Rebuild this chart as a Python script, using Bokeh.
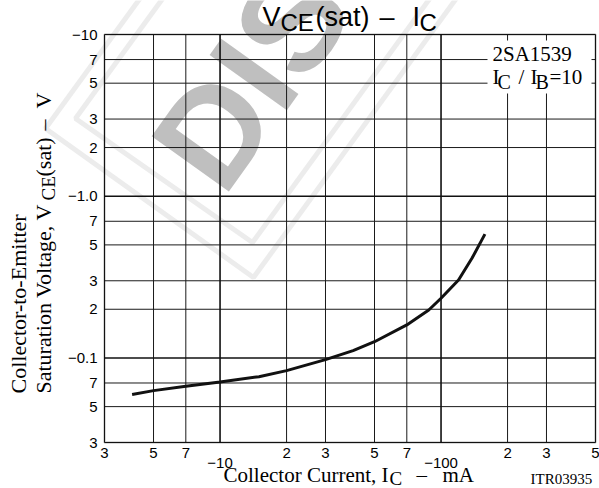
import math
from bokeh.plotting import figure
from bokeh.models import FixedTicker, Label, PolyAnnotation, BoxAnnotation
from bokeh.embed import file_html
from bokeh.resources import INLINE

# ---- data (magnitudes; values are negative in the datasheet) ----
ic_mA = [4, 5, 7, 10, 15, 20, 30, 40, 50, 70, 88, 100, 120, 138, 158]
vce_sat_V = [0.0594, 0.0628, 0.0668, 0.0711, 0.0766, 0.0835, 0.0976, 0.111, 0.126,
             0.160, 0.198, 0.234, 0.303, 0.413, 0.583]

x_ticks = [3, 5, 7, 10, 20, 30, 50, 70, 100, 200, 300, 500]
x_tick_labels = ["3", "5", "7", "−10", "2", "3", "5", "7", "−100", "2", "3", "5"]
x_lowered = [10, 100]          # ticks whose labels sit lower in the original
y_ticks = [10, 7, 5, 3, 2, 1, 0.7, 0.5, 0.3, 0.2, 0.1, 0.07, 0.05, 0.03]
y_tick_labels = ["−10", "7", "5", "3", "2", "−1.0", "7", "5", "3", "2", "−0.1", "7", "5", "3"]
decades_x = [10, 100]
decades_y = [1, 0.1]
X0, X1 = 3, 500
Y0, Y1 = 0.03, 10

W, H = 599, 488
FL, FR, FT, FB = 104, 595, 34, 442   # plot box edges in canvas pixels
SHIFT = 0.33                         # text baseline compensation (em)

# ranges chosen so that the plot box lands at FL..FR / FT..FB on a full-canvas frame
ppd_x = (FR - FL) / math.log10(X1 / X0)
ppd_y = (FB - FT) / math.log10(Y1 / Y0)
x_range = (10 ** (math.log10(X0) - FL / ppd_x), 10 ** (math.log10(X1) + (W - FR) / ppd_x))
y_range = (10 ** (math.log10(Y0) - (H - FB) / ppd_y), 10 ** (math.log10(Y1) + FT / ppd_y))


def sx(x):
    return x


def sy(y):
    return H - y


p = figure(width=W, height=H, x_axis_type="log", y_axis_type="log",
           x_range=x_range, y_range=y_range,
           output_backend="svg", toolbar_location=None,
           min_border_left=0, min_border_right=0, min_border_top=0, min_border_bottom=0)
p.title.visible = False
p.background_fill_color = "white"
p.border_fill_color = "white"
p.outline_line_color = None
p.xgrid.visible = False
p.ygrid.visible = False

# axes pinned to the plot box edges
p.xaxis.fixed_location = Y0
p.yaxis.fixed_location = X0
for ax, ticks, labels in ((p.xaxis[0], x_ticks, x_tick_labels), (p.yaxis[0], y_ticks, y_tick_labels)):
    ax.ticker = FixedTicker(ticks=ticks)
    ov = {}
    for t, l in zip(ticks, labels):
        ov[t] = "" if (ax is p.xaxis[0] and t in x_lowered) else l
    ax.major_label_overrides = ov
    ax.axis_line_color = None
    ax.major_tick_line_color = None
    ax.minor_tick_line_color = None
    ax.major_tick_out = 0
    ax.major_tick_in = 0
    ax.major_label_text_font = "Liberation Sans"
    ax.major_label_text_font_size = "15px"
    ax.major_label_text_color = "black"
p.xaxis.major_label_standoff = 5
p.yaxis.major_label_standoff = 7

# ---- watermark (decoration, beneath everything) ----
WM = "#bfbfbf"
ux, uy = 0.588, -0.809
for (lx, ly), (bx, by) in (((45, 128), (253, 277)), ((75, 118), (252, 242))):
    L2 = (lx + 500 * ux, ly + 500 * uy)
    B2 = (bx + 500 * ux, by + 500 * uy)
    pts = [(lx, ly), (bx, by), B2, L2]
    p.add_layout(PolyAnnotation(xs=[sx(a) for a, _ in pts], ys=[sy(b) for _, b in pts],
                                xs_units="screen", ys_units="screen",
                                fill_color=None, line_color=WM, line_width=5, level="image"))
WA = 0.95
wsize = 138
wx = 214 + 40 * math.sin(WA)
wy = 192 + 40 * math.cos(WA)
p.add_layout(Label(x=sx(wx), y=sy(wy), x_units="screen", y_units="screen", text="DIS",
                   angle=WA, text_font="Liberation Sans", text_font_style="bold",
                   text_font_size=f"{wsize}px", text_color=WM, level="image"))

# ---- grid from the tick arrays ----
minor_x = [t for t in x_ticks if t not in decades_x]
minor_y = [t for t in y_ticks if t not in decades_y]
p.segment(x0=minor_x, x1=minor_x, y0=[Y0] * len(minor_x), y1=[Y1] * len(minor_x),
          line_color="#1a1a1a", line_width=1)
p.segment(x0=[X0] * len(minor_y), x1=[X1] * len(minor_y), y0=minor_y, y1=minor_y,
          line_color="#1a1a1a", line_width=1)
p.segment(x0=decades_x, x1=decades_x, y0=[Y0] * 2, y1=[Y1] * 2,
          line_color="#111111", line_width=1.6)
p.segment(x0=[X0] * 2, x1=[X1] * 2, y0=decades_y, y1=decades_y,
          line_color="#111111", line_width=1.6)

# ---- curve ----
p.line(ic_mA, vce_sat_V, line_color="#111111", line_width=3)

# plot box
p.add_layout(BoxAnnotation(left=X0, right=X1, bottom=Y0, top=Y1, fill_alpha=0,
                           line_color="black", line_width=2))


def lab(text, x, y, size, font="Liberation Serif", angle=0.0, align="left"):
    # (x, y): intended baseline start in canvas px
    ax_ = x - SHIFT * size * math.sin(angle)
    ay_ = y - SHIFT * size * math.cos(angle)
    p.add_layout(Label(x=sx(ax_), y=sy(ay_), x_units="screen", y_units="screen", text=text,
                       angle=angle, text_font=font, text_font_size=f"{size}px",
                       text_color="black", text_align=align, text_baseline="alphabetic"))


# lowered decade tick labels on the x axis
for t, l in zip(x_ticks, x_tick_labels):
    if t in x_lowered:
        p.add_layout(Label(x=t, y=sy(467 - SHIFT * 15), x_units="data", y_units="screen", text=l,
                           text_font="Liberation Sans", text_font_size="15px",
                           text_align="center", text_baseline="alphabetic", text_color="black"))

# title  V_CE(sat) – I_C
lab("V", 262, 25, 27, "Liberation Sans")
lab("CE", 280, 30, 24, "Liberation Sans")
lab("(sat)", 315, 25, 27, "Liberation Sans")
lab("–", 379, 25, 27, "Liberation Sans")
lab("I", 412, 25, 27, "Liberation Sans")
lab("C", 419, 30, 24, "Liberation Sans")

# white box behind the condition text
p.add_layout(BoxAnnotation(left=sx(487), right=sx(591), top=sy(40), bottom=sy(93),
                           left_units="screen", right_units="screen",
                           top_units="screen", bottom_units="screen",
                           fill_color="white", fill_alpha=1, line_color=None))
lab("2SA1539", 492, 60, 21)
lab("I", 492, 83, 21)
lab("C", 497, 88, 20)
lab("/", 518, 83, 21)
lab("I", 530, 83, 21)
lab("B", 535, 88, 20)
lab("=10", 549, 83, 21)

# x axis title
lab("Collector Current, I", 223, 481, 21)
lab("C", 389, 484, 19)
lab("–", 416, 481, 21)
lab("mA", 442, 481, 21)
lab("ITR03935", 530, 483, 15)

# y axis title (rotated)
A = math.pi / 2
lab("Collector-to-Emitter", 25, 393, 22, angle=A)
lab("Saturation Voltage, V", 50, 393, 22, angle=A)
lab("CE", 54, 200, 19, angle=A)
lab("(sat)", 50, 176, 22, angle=A)
lab("–", 50, 130, 22, angle=A)
lab("V", 50, 108, 22, angle=A)

open("out.html", "w").write(file_html(p, INLINE))
